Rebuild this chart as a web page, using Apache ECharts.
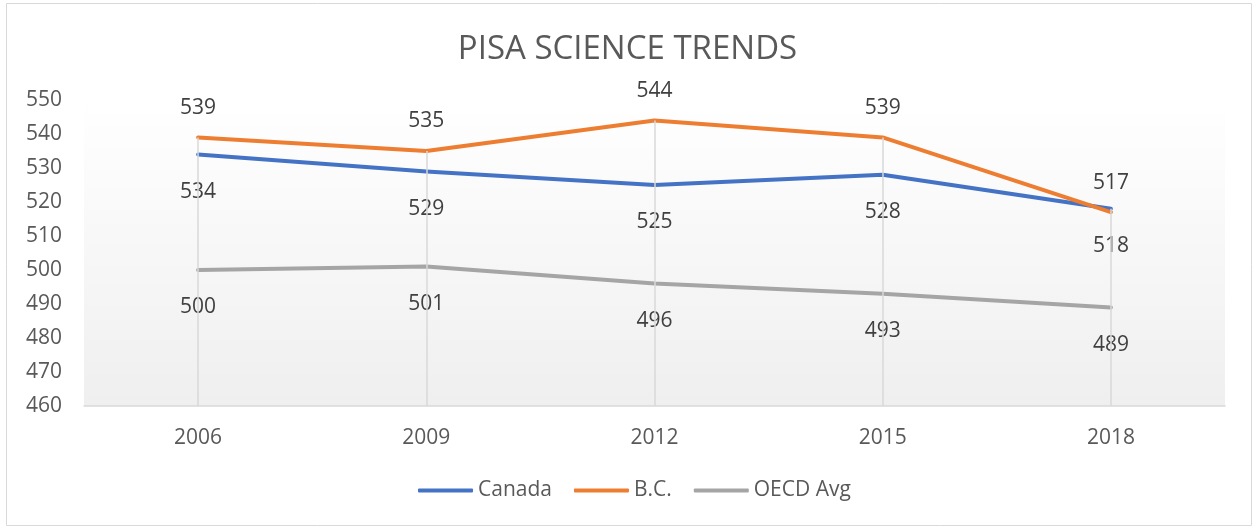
<!DOCTYPE html>
<html><head><meta charset="utf-8">
<script src="https://cdn.jsdelivr.net/npm/echarts@6/dist/echarts.min.js"></script>
<style>html,body{margin:0;padding:0;background:#fff;}#c{width:1255px;height:529px;}</style>
</head><body><div id="c"></div>
<script>
const years = ['2006','2009','2012','2015','2018'];
const canada = [534, 529, 525, 528, 518];
const bc = [539, 535, 544, 539, 517];
const oecd = [500, 501, 496, 493, 489];
const yMin = 460, yMax = 550, yStep = 10;

const chart = echarts.init(document.getElementById('c'));
const font = '"Open Sans", "Noto Sans", sans-serif';
const dropData = years.map((y, i) => [
  {coord: [y, Math.max(canada[i], bc[i], oecd[i])]},
  {coord: [y, yMin]}
]);
const lbl = (pos) => ({show: true, position: pos, distance: pos === 'top' ? 19 : 27, color: '#404040', fontSize: 21, fontFamily: font});
const lineSeries = (name, data, color, pos, z) => ({
  name, type: 'line', data, z, color, symbol: 'circle', symbolSize: 0, showSymbol: true,
  lineStyle: {width: 4, cap: 'round', join: 'round'}, label: lbl(pos)
});
chart.setOption({
  animation: false,
  graphic: [{type: 'rect', shape: {x: 6.5, y: 3.5, width: 1245, height: 522}, style: {fill: 'none', stroke: '#d9d9d9', lineWidth: 1}, z: -1}],
  title: {text: 'PISA SCIENCE TRENDS', left: 'center', top: 28, textStyle: {fontFamily: font, fontSize: 33, fontWeight: 'normal', color: '#595959'}},
  grid: {left: 84, right: 30, top: 100, bottom: 123, show: true, borderWidth: 0,
    backgroundColor: new echarts.graphic.LinearGradient(0, 0, 0, 1, [{offset: 0, color: '#ffffff'}, {offset: 1, color: '#efefef'}])},
  legend: {bottom: 23, left: 413, itemWidth: 55, itemHeight: 4, itemGap: 22, icon: 'roundRect',
    textStyle: {fontFamily: font, fontSize: 21, color: '#595959'},
    data: ['Canada', 'B.C.', 'OECD Avg']},
  xAxis: {type: 'category', data: years, boundaryGap: true,
    axisLine: {lineStyle: {color: '#d9d9d9', width: 1.5}}, axisTick: {show: false},
    axisLabel: {fontFamily: font, fontSize: 21, color: '#595959', margin: 22}},
  yAxis: {type: 'value', min: yMin, max: yMax, interval: yStep,
    axisLine: {show: false}, axisTick: {show: false}, splitLine: {show: false},
    axisLabel: {fontFamily: font, fontSize: 21, color: '#595959', margin: 22}},
  series: [
    {name: 'drop', type: 'line', data: [], silent: true, z: 1,
      markLine: {silent: true, symbol: 'none', label: {show: false}, lineStyle: {color: '#d9d9d9', width: 1.5, type: 'solid'}, data: dropData}},
    lineSeries('Canada', canada, '#4472C4', 'bottom', 3),
    lineSeries('B.C.', bc, '#ED7D31', 'top', 4),
    lineSeries('OECD Avg', oecd, '#A5A5A5', 'bottom', 3)
  ]
});
</script></body></html>
